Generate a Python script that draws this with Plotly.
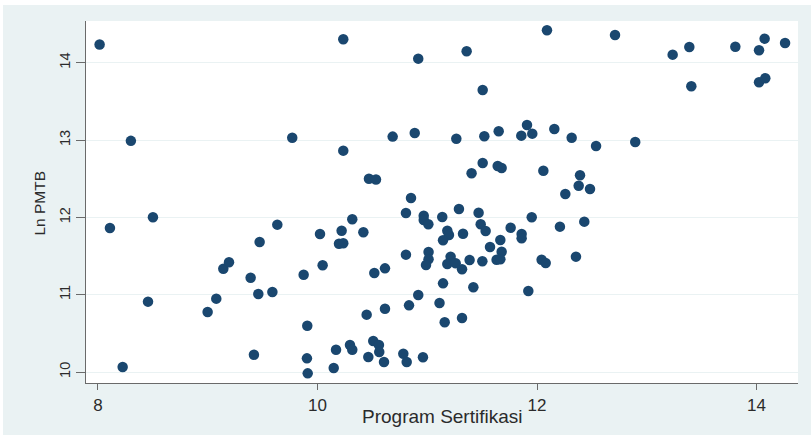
import plotly.graph_objects as go

# Program Sertifikasi (x) and Ln PMTB (y)
program_sertifikasi = [
    8.015, 8.30, 9.77, 10.235, 10.918, 11.359, 12.091, 11.505, 10.235, 10.685,
    10.886, 11.265, 11.520, 11.651, 11.909, 11.857, 11.957, 12.158, 12.316, 12.538,
    10.469, 10.533, 11.505, 11.404, 11.642, 11.678, 12.058, 12.392, 12.380, 12.483,
    12.711, 13.236, 13.388, 13.807, 14.023, 14.074, 14.260, 13.406, 14.023, 14.080,
    12.895, 12.258, 11.952, 12.431, 12.209, 11.860, 11.860, 12.042, 12.079, 12.355,
    10.852, 10.317, 10.806, 10.968, 10.968, 11.010, 11.137, 11.289, 11.468, 11.487,
    11.532, 11.760, 11.666, 11.572, 11.678, 11.632, 11.666, 11.921, 10.023, 10.220,
    10.196, 10.235, 10.418, 10.047, 10.518, 10.615, 10.806, 11.012, 11.012, 10.989,
    11.183, 11.198, 11.144, 11.326, 11.213, 11.183, 11.259, 11.317, 11.386, 11.502,
    11.144, 11.420, 10.918, 10.834, 11.112, 10.615, 10.448, 11.159, 11.317, 10.169,
    10.296, 10.317, 10.508, 10.560, 10.563, 10.463, 10.606, 10.782, 10.813, 10.961,
    10.148, 8.109, 8.501, 8.456, 8.225, 8.999, 9.078, 9.142, 9.194, 9.391,
    9.461, 9.589, 9.473, 9.634, 9.874, 9.907, 9.421, 9.904, 9.911,
]
ln_pmtb = [
    14.235, 12.99, 13.03, 14.304, 14.053, 14.149, 14.420, 13.648, 12.863, 13.045,
    13.092, 13.018, 13.049, 13.114, 13.195, 13.057, 13.083, 13.143, 13.031, 12.924,
    12.50, 12.49, 12.704, 12.570, 12.665, 12.639, 12.604, 12.544, 12.410, 12.367,
    14.360, 14.105, 14.204, 14.208, 14.161, 14.312, 14.256, 13.696, 13.747, 13.799,
    12.975, 12.303, 12.001, 11.945, 11.880, 11.785, 11.729, 11.453, 11.410, 11.492,
    12.251, 11.975, 12.057, 12.022, 11.966, 11.911, 12.005, 12.109, 12.061, 11.911,
    11.824, 11.867, 11.708, 11.617, 11.556, 11.453, 11.458, 11.048, 11.785, 11.828,
    11.660, 11.665, 11.807, 11.380, 11.281, 11.341, 11.518, 11.552, 11.458, 11.384,
    11.828, 11.772, 11.704, 11.789, 11.492, 11.397, 11.406, 11.329, 11.449, 11.432,
    11.147, 11.096, 10.996, 10.862, 10.893, 10.819, 10.742, 10.643, 10.699, 10.289,
    10.349, 10.289, 10.401, 10.349, 10.259, 10.194, 10.129, 10.237, 10.129, 10.190,
    10.052, 11.863, 12.001, 10.910, 10.065, 10.776, 10.949, 11.336, 11.419, 11.220,
    11.009, 11.035, 11.682, 11.906, 11.259, 10.599, 10.224, 10.177, 9.983,
]

x_ticks = [8, 10, 12, 14]
y_ticks = [10, 11, 12, 13, 14]
x_title = "Program Sertifikasi"
y_title = "Ln PMTB"

BG = "#EAF2F3"
NAVY = "#1A476F"
TXT = "#2b2b2b"
AX = "#6a6a6a"

fig = go.Figure()
fig.add_trace(go.Scatter(
    x=program_sertifikasi, y=ln_pmtb, mode="markers",
    marker=dict(color=NAVY, size=10.5, line=dict(width=0)),
    showlegend=False, hoverinfo="x+y",
))

white_strip = dict(type="rect", xref="paper", yref="paper",
                   fillcolor="white", line=dict(width=0), layer="below")
fig.update_layout(
    width=811, height=440,
    margin=dict(l=86, r=13, t=21, b=57),
    paper_bgcolor=BG, plot_bgcolor="white",
    font=dict(family="Liberation Sans, Arial, sans-serif", color=TXT),
    shapes=[
        dict(white_strip, x0=-0.125, x1=-0.1166, y0=-0.2, y1=1.1),
        dict(white_strip, x0=-0.125, x1=1.05, y0=1.0442, y1=1.1),
        dict(white_strip, x0=-0.125, x1=1.05, y0=-0.2, y1=-0.1436),
    ],
    annotations=[
        dict(text=x_title, xref="paper", yref="paper", x=0.5, y=-0.0912,
             xanchor="center", yanchor="middle", showarrow=False,
             font=dict(size=19, color=TXT)),
        dict(text=y_title, xref="paper", yref="paper", x=-0.0653, y=0.497,
             xanchor="center", yanchor="middle", showarrow=False, textangle=-90,
             font=dict(size=15.5, color=TXT)),
    ],
)
fig.update_xaxes(
    range=[7.891, 14.378], tickvals=x_ticks, ticktext=[str(v) for v in x_ticks],
    showgrid=False, zeroline=False, showline=True, linecolor=AX, linewidth=1.3,
    ticks="outside", ticklen=6, tickcolor=AX, tickwidth=1,
    tickfont=dict(size=17, color=TXT),
)
fig.update_yaxes(
    range=[9.858, 14.54], tickvals=y_ticks, ticktext=[str(v) for v in y_ticks],
    showgrid=True, gridcolor=BG, gridwidth=1.2, zeroline=False,
    showline=True, linecolor=AX, linewidth=1.3,
    ticks="outside", ticklen=9, tickcolor=AX, tickwidth=1, tickangle=-90,
    tickfont=dict(size=14.5, color=TXT),
)

fig.write_html("out.html", config={"displayModeBar": False},
               post_script="document.body.style.margin='0px';")
